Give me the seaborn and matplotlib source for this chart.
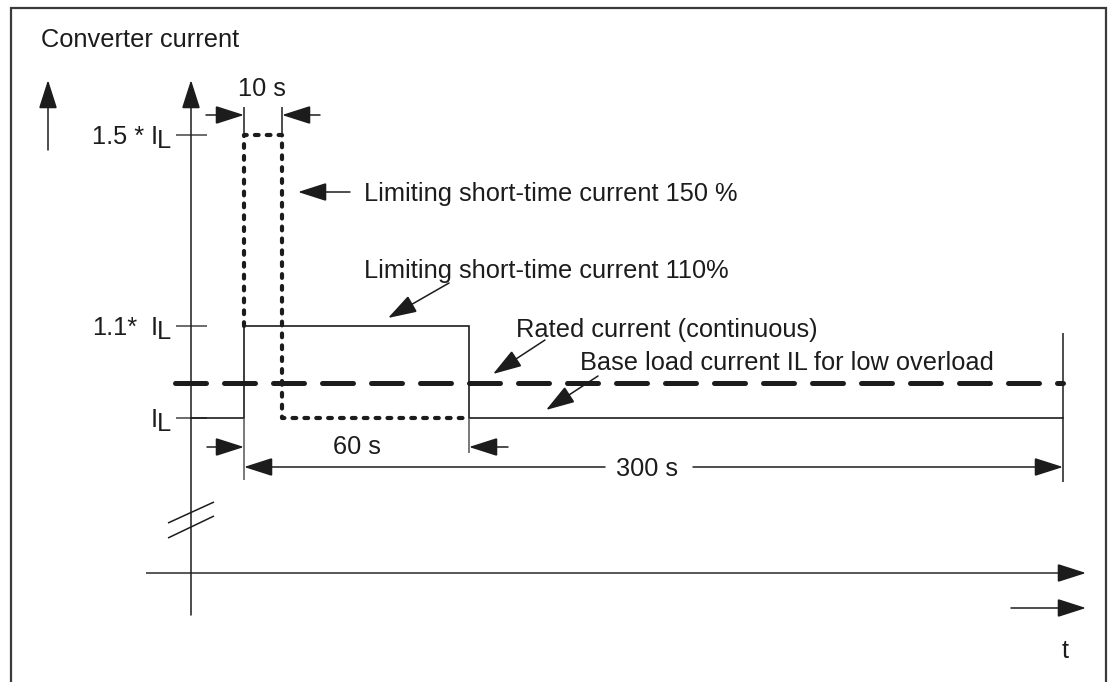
import matplotlib
matplotlib.use("Agg")
import matplotlib.pyplot as plt
import seaborn as sns
import pandas as pd

sns.set_theme(style="white")
plt.rcParams['font.family'] = ['Liberation Sans', 'DejaVu Sans']

# ---- schematic diagram data (diagram units, y grows downward) ----
# current levels on the vertical axis
level_names = ["1.5 * ", "1.1*", ""]
level_y = [135, 326, 418]
rated_y = 383

# time marks on the horizontal axis
t_axis = 191
t_start = 244
t_10s = 282
t_60s = 469
t_300s = 1063

# curves
curve110_x = [t_axis, t_start, t_start, t_60s, t_60s, t_300s]
curve110_y = [418, 418, 326, 326, 418, 418]
curve150_x = [t_start, t_start, t_10s, t_10s, t_60s]
curve150_y = [326, 135, 135, 418, 418]
rated_x = [175, t_300s]

# annotation texts
title_text = "Converter current"
label_150 = "Limiting short-time current 150 %"
label_110 = "Limiting short-time current 110%"
label_rated = "Rated current (continuous)"
label_base = "Base load current IL for low overload"
dim_labels = ["10 s", "60 s", "300 s"]

W, H = 1111, 682
fig = plt.figure(figsize=(W / 100, H / 100), dpi=100)
ax = fig.add_axes([0, 0, 1, 1])
ax.set_xlim(0, W)
ax.set_ylim(H, 0)
ax.axis("off")

ink = "#1c1c1c"
FS = 18.3

# frame
ax.plot([11, 11, 1106, 1106], [H + 5, 8, 8, H + 5], color="#3a3a3a", lw=1.6, solid_joinstyle="miter")

def arrow(x0, y0, x1, y1, color=ink, lw=1.1, hl=1.0, hw=0.32, ms=18):
    ax.annotate("", xy=(x1, y1), xytext=(x0, y0),
                arrowprops=dict(arrowstyle=f"-|>,head_length={hl},head_width={hw}",
                                mutation_scale=ms, lw=lw, color=color,
                                shrinkA=0, shrinkB=0, joinstyle="miter"))

def seg(xs, ys, color=ink, lw=1.1):
    ax.plot(xs, ys, color=color, lw=lw, solid_capstyle="butt")

# axes of the diagram
arrow(t_axis, 615, t_axis, 80)
seg([146, 1070], [573, 573], color="#4a4a4a", lw=1.3)
arrow(1070, 573, 1086, 573)
arrow(48, 150, 48, 80)
arrow(1011, 608, 1086, 608)
# axis break
seg([168, 214], [523, 502])
seg([168, 214], [538, 516])

# level ticks and labels
for name, y in zip(level_names, level_y):
    seg([176, 207], [y, y], color="#444444")
    if name:
        ax.text(92, y + 9, name, fontsize=FS, color=ink, ha="left", va="baseline")
    ax.text(151, y + 9, "I", fontsize=FS, color=ink, ha="left", va="baseline")
    ax.text(157, y + 13, "L", fontsize=FS, color=ink, ha="left", va="baseline")

# curves
df110 = pd.DataFrame({"x": curve110_x, "y": curve110_y})
sns.lineplot(data=df110, x="x", y="y", sort=False, estimator=None, ax=ax,
             color=ink, lw=1.2, solid_joinstyle="miter")
df150 = pd.DataFrame({"x": curve150_x, "y": curve150_y})
sns.lineplot(data=df150, x="x", y="y", sort=False, estimator=None, ax=ax,
             color=ink, lw=3.0, linestyle=(0, (0.9, 1.95)), dash_capstyle="round")
dfr = pd.DataFrame({"x": rated_x, "y": [rated_y, rated_y]})
sns.lineplot(data=dfr, x="x", y="y", sort=False, estimator=None, ax=ax,
             color=ink, lw=3.6, linestyle=(0, (6.2, 3.6)), dash_capstyle="round")

# extension lines
seg([t_start, t_start], [107, 135])
seg([t_10s, t_10s], [107, 135])
seg([t_start, t_start], [418, 480], color="#555555")
seg([t_60s, t_60s], [418, 453], color="#555555")
seg([t_300s, t_300s], [333, 482])

# dimension arrows
arrow(206, 115, t_start, 115)
arrow(320, 115, t_10s, 115)
arrow(207, 447, t_start, 447)
arrow(508, 447, t_60s, 447)
arrow(605, 467, t_start, 467)
arrow(693, 467, t_300s, 467)

# pointer arrows
arrow(350, 192, 298, 192)
arrow(449, 283, 388, 318)
arrow(545, 340, 493, 374)
arrow(598, 376, 546, 410)

# texts
ax.text(41, 47, title_text, fontsize=FS, color=ink, ha="left", va="baseline")
ax.text(262, 96, dim_labels[0], fontsize=FS, color=ink, ha="center", va="baseline")
ax.text(357, 454, dim_labels[1], fontsize=FS, color=ink, ha="center", va="baseline")
ax.text(647, 476, dim_labels[2], fontsize=FS, color=ink, ha="center", va="baseline")
ax.text(364, 201, label_150, fontsize=FS, color=ink, ha="left", va="baseline")
ax.text(364, 278, label_110, fontsize=FS, color=ink, ha="left", va="baseline")
ax.text(516, 337, label_rated, fontsize=FS, color=ink, ha="left", va="baseline")
ax.text(580, 370, label_base, fontsize=FS, color=ink, ha="left", va="baseline")
ax.text(1065, 658, "t", fontsize=FS, color=ink, ha="center", va="baseline")

fig.savefig("out.png", dpi=100, facecolor="white")
